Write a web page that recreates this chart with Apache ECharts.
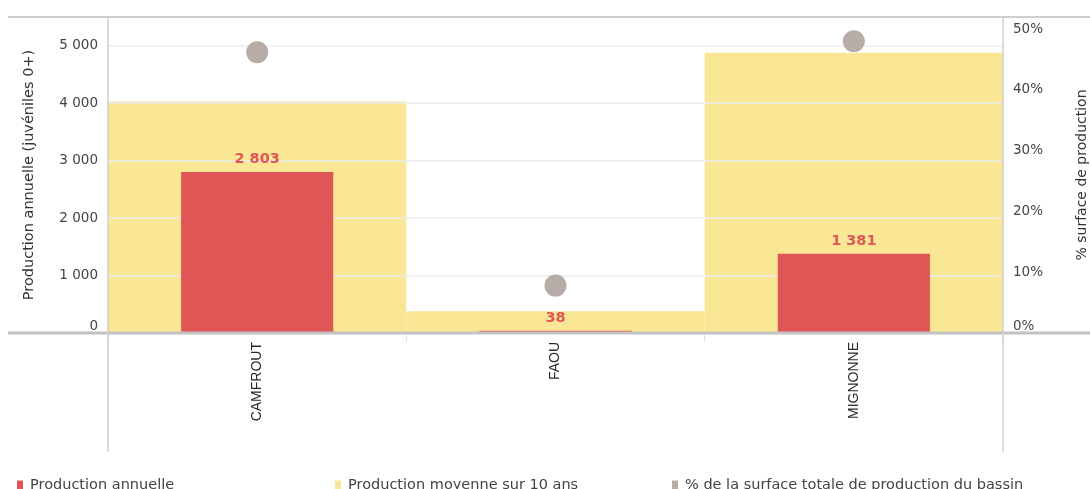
<!DOCTYPE html>
<html>
<head>
<meta charset="utf-8">
<script src="https://cdn.jsdelivr.net/npm/echarts@6/dist/echarts.min.js"></script>
<style>
  html, body { margin: 0; padding: 0; background: #fff; }
  #chart { width: 1090px; height: 489px; }
</style>
</head>
<body>
<div id="chart"></div>
<script>
const categories = ['CAMFROUT', 'FAOU', 'MIGNONNE']
const productionAnnuelle = [2803, 38, 1381]
const productionMoyenne = [4030, 380, 4877]
const surfacePct = [46.2, 7.8, 48.0]
const seriesNames = [
  'Production annuelle',
  'Production moyenne sur 10 ans',
  '% de la surface totale de production du bassin'
]

const RED = '#e05555'
const YELLOW = '#f9e796'
const GREY = '#b8aca8'
const FONT = 'DejaVu Sans'

// "2803" -> "2 803"
function fmtThousands(v) {
  return String(v).replace(/\B(?=(\d{3})+(?!\d))/g, ' ')
}

const chart = echarts.init(document.getElementById('chart'), null, { renderer: 'canvas' })

function legendAt(left, name) {
  return {
    data: [name],
    left: left,
    top: 473,
    icon: 'rect',
    itemWidth: 6,
    itemHeight: 10,
    itemGap: 6,
    selectedMode: false,
    textStyle: { color: '#444', fontSize: 14.5, fontFamily: FONT, padding: [0, 0, 0, 2] }
  }
}

const option = {
  animation: false,
  grid: { left: 108, right: 87, top: 17, bottom: 156, outerBoundsMode: 'none' },
  legend: [
    legendAt(12, seriesNames[0]),
    legendAt(330, seriesNames[1]),
    legendAt(667, seriesNames[2])
  ],
  xAxis: [
    {
      type: 'category',
      data: categories,
      axisLine: { show: false },
      axisTick: { show: true, length: 9, lineStyle: { color: '#e2e2e2' } },
      axisLabel: {
        rotate: 90,
        margin: 9,
        color: '#2a2a2a',
        fontSize: 14,
        fontFamily: 'Liberation Sans'
      }
    },
    {
      type: 'category',
      data: categories,
      show: false
    }
  ],
  yAxis: [
    {
      type: 'value',
      min: 0,
      max: 5500,
      interval: 1000,
      z: 3,
      name: 'Production annuelle (juvéniles 0+)',
      nameLocation: 'middle',
      nameGap: 71,
      nameTextStyle: { color: '#333', fontSize: 14.5, fontFamily: FONT },
      axisLine: { show: false },
      axisTick: { show: false },
      axisLabel: {
        color: '#444',
        fontSize: 13.5,
        fontFamily: FONT,
        margin: 10,
        showMaxLabel: false,
        verticalAlignMinLabel: 'bottom',
        formatter: v => fmtThousands(v)
      },
      splitLine: { lineStyle: { color: '#ececec', width: 1.5 } }
    },
    {
      type: 'value',
      min: 0,
      max: 52,
      interval: 10,
      name: '% surface de production',
      nameLocation: 'middle',
      nameRotate: 90,
      nameGap: 72,
      nameTextStyle: { color: '#333', fontSize: 14, fontFamily: FONT },
      axisLine: { show: false },
      axisTick: { show: false },
      axisLabel: {
        color: '#444',
        fontSize: 13.5,
        fontFamily: FONT,
        margin: 10,
        showMaxLabel: false,
        verticalAlignMinLabel: 'bottom',
        formatter: '{value}%'
      },
      splitLine: { show: false }
    }
  ],
  series: [
    {
      name: seriesNames[0],
      type: 'bar',
      xAxisIndex: 0,
      yAxisIndex: 0,
      data: productionAnnuelle,
      barWidth: '51%',
      z: 5,
      itemStyle: { color: RED },
      label: {
        show: true,
        position: 'top',
        distance: 5,
        color: RED,
        fontSize: 14.5,
        fontWeight: 'bold',
        fontFamily: FONT,
        formatter: p => fmtThousands(p.value)
      }
    },
    {
      name: seriesNames[1],
      type: 'bar',
      xAxisIndex: 1,
      yAxisIndex: 0,
      data: productionMoyenne,
      barWidth: '100%',
      z: 1,
      itemStyle: { color: YELLOW }
    },
    {
      name: seriesNames[2],
      type: 'scatter',
      xAxisIndex: 0,
      yAxisIndex: 1,
      data: surfacePct,
      symbolSize: 22,
      z: 6,
      itemStyle: { color: GREY, opacity: 1 }
    }
  ],
  // frame lines around the plot, as in the original export
  graphic: [
    { type: 'line', shape: { x1: 8, y1: 17, x2: 1090, y2: 17 }, style: { stroke: '#cfcfcf', lineWidth: 2 }, z: 10 },
    { type: 'line', shape: { x1: 8, y1: 333, x2: 1090, y2: 333 }, style: { stroke: '#c2c2c2', lineWidth: 3 }, z: 10 },
    { type: 'line', shape: { x1: 108, y1: 17, x2: 108, y2: 452 }, style: { stroke: '#cfcfcf', lineWidth: 1.5 }, z: 10 },
    { type: 'line', shape: { x1: 1003, y1: 17, x2: 1003, y2: 452 }, style: { stroke: '#cfcfcf', lineWidth: 1.5 }, z: 10 }
  ]
}

chart.setOption(option)
window.addEventListener('resize', () => chart.resize())
</script>
</body>
</html>
